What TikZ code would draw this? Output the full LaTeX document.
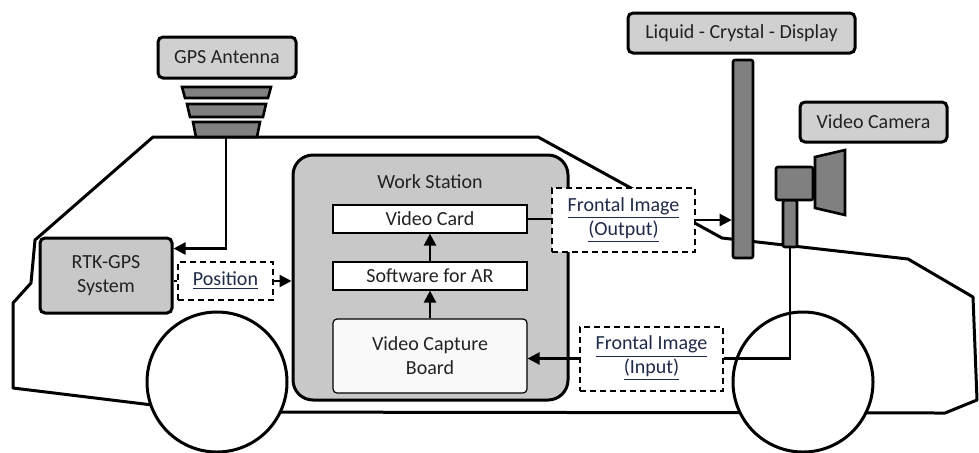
\documentclass[tikz,border=0pt]{standalone}
\usepackage{fontspec}
\setmainfont{Carlito}
\usetikzlibrary{arrows.meta, positioning, calc}
\definecolor{boxgray}{HTML}{D0D0D0}
\definecolor{stationgray}{HTML}{C8C8C8}
\definecolor{partgray}{HTML}{808080}
\definecolor{labelblue}{HTML}{1F2A48}
\definecolor{textgray}{HTML}{222222}

\begin{document}
\begin{tikzpicture}[
        x=0.5pt, y=-0.5pt,
        font=\fontsize{10}{12}\selectfont,
        tag/.style={draw, line width=1.5pt, rounded corners=2.5pt, fill=boxgray, text=textgray, inner sep=0pt, align=center},
        inner/.style={draw, line width=0.6pt, fill=white, text=textgray, minimum width=97pt, minimum height=14pt, inner sep=0pt, align=center},
        dashbox/.style={draw, dash pattern=on 3pt off 2pt, line width=1pt, fill=white, text=labelblue, minimum width=71.5pt, minimum height=32pt, inner sep=0pt, align=center},
        part/.style={draw, line width=1.3pt, fill=partgray, inner sep=0pt, rounded corners=1pt},
        body/.style={line width=1.5pt, line join=round},
        link/.style={line width=1.2pt},
        arr/.style={link, -{Triangle[length=6pt, width=6pt]}}
    ]
        \useasboundingbox (0,0) rectangle (979,452);

        % car body and wheels
        \draw[body] (153,137) -- (538,137) -- (722,238) -- (908,259) -- (973,297) -- (977,400)
            -- (945,413) -- (210,412) -- (13,388) -- (13,303) -- (31,283) -- (35,240) -- cycle;
        \draw[body, fill=white] (217,382) circle[radius=35pt];
        \draw[body, fill=white] (803,382) circle[radius=35pt];

        % antenna on the roof
        \foreach \ya/\yb/\xa/\xb in {87/98/182/185, 104/117/187/190, 122/137/193/196}
            \draw[part, rounded corners=0pt] (\xa,\ya) -- (453-\xa,\ya) -- (453-\xb,\yb) -- (\xb,\yb) -- cycle;
        \coordinate (ant) at (226,137);

        \node[tag, minimum width=69pt, minimum height=20.5pt] (gps) at (227,57.5) {GPS Antenna};
        \node[tag, minimum width=113.5pt, minimum height=20pt] (lcdtag) at (741.5,33) {Liquid - Crystal - Display};
        \node[tag, minimum width=73.5pt, minimum height=20pt] (camtag) at (873.5,122) {Video Camera};

        \node[tag, fill=stationgray, minimum width=66pt, minimum height=37.5pt] (rtk) at (106,275.5) {RTK-GPS\\System};
        \node[dashbox, minimum width=47.5pt, minimum height=19pt] (pos) at (225.5,281) {\underline{Position}};

        % work station
        \node[draw, line width=1.5pt, rounded corners=10pt, fill=stationgray, minimum width=137.5pt, minimum height=122.5pt] (ws) at (430.5,277.5) {};
        \node[text=textgray] (wstitle) at (430,182) {Work Station};
        \node[inner] (card) at (430,219) {Video Card};
        \node[inner] (soft) at (430,276) {Software for AR};
        \node[inner, minimum height=37pt, rounded corners=2pt, fill=gray!5] (cap) at (430,356) {Video Capture\\Board};

        \node[dashbox] (out) at (623.5,220) {\underline{Frontal Image}\\\underline{(Output)}};
        \node[dashbox] (in) at (651.5,358.5) {\underline{Frontal Image}\\\underline{(Input)}};

        % display and camera
        \node[part, minimum width=10pt, minimum height=99pt] (lcd) at (743,159) {};
        \node[part, minimum width=7pt, minimum height=23.5pt] (stand) at (790,223.5) {};
        \node[part, minimum width=18.5pt, minimum height=16.5pt] (cam) at (794.5,183.5) {};
        \draw[part, rounded corners=0pt] (815,157) -- (845,150) -- (845,215) -- (815,208) -- cycle;

        \draw[arr] (ant) |- ([yshift=-6pt]rtk.north east);
        \draw[link] (rtk.east |- pos.west) -- (pos.west);
        \draw[arr] (pos.east) -- (pos.east -| ws.west);
        \draw[arr] (cap.north) -- (soft.south);
        \draw[arr] (soft.north) -- (card.south);
        \draw[link] (card.east) -- (card.east -| out.west);
        \draw[arr] (out.east) -- (out.east -| lcd.west);
        \draw[link] (stand.south) |- (in.east);
        \draw[arr] (in.west) -- (in.west -| cap.east);
    \end{tikzpicture}
\end{document}
